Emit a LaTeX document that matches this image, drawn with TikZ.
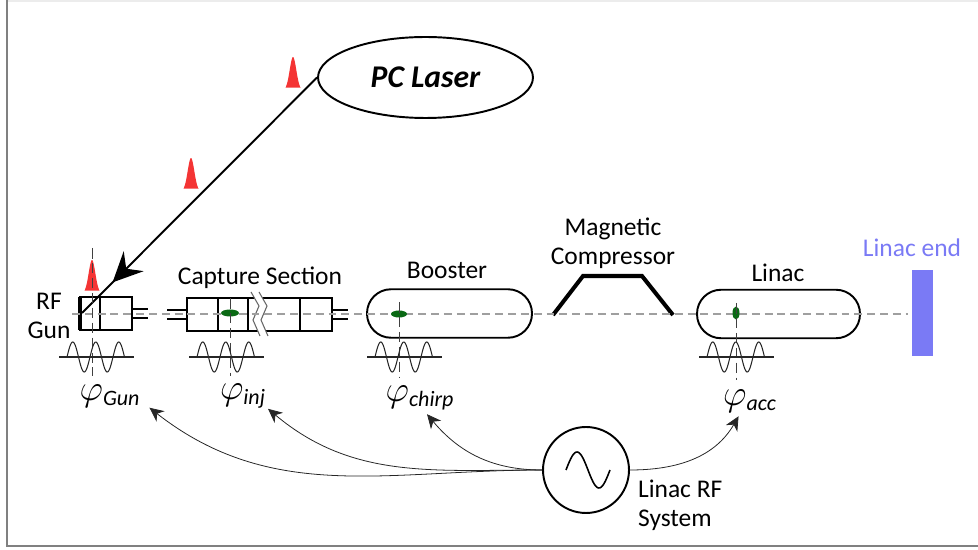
\documentclass[tikz,border=0pt]{standalone}
\usepackage{fontspec}
\usepackage{amsmath}
\setmainfont{Carlito}
\usetikzlibrary{shapes,arrows.meta,decorations.markings}
\definecolor{pulsered}{RGB}{244,52,52}
\definecolor{bunchgreen}{RGB}{10,105,20}
\definecolor{endblue}{RGB}{122,122,245}
\newcommand{\phasesub}[1]{_{\text{\fontsize{12.5}{13}\selectfont\itshape #1}}}
\tikzstyle{box} = [line width=1.1pt]
\tikzstyle{cavity} = [draw, line width=1.1pt, rounded corners=0.48cm, minimum height=0.97cm, inner sep=0pt]
\tikzstyle{axis} = [gray!75, line width=0.8pt, dash pattern=on 4.5pt off 2.8pt]
\tikzstyle{bunchline} = [black!75, line width=0.5pt, dash pattern=on 6pt off 2.5pt]
\tikzstyle{wave} = [black!85, line width=0.6pt]
\tikzstyle{txt} = [font=\fontsize{14.5}{16.4}\selectfont, align=center, inner sep=1pt]
\tikzstyle{phase} = [font=\fontsize{21}{22}\selectfont, inner sep=1pt]
\tikzstyle{rfarrow} = [-{Stealth[length=8pt,width=7.5pt,inset=2.5pt]}, line width=0.45pt, black!85]

\begin{document}
\begin{tikzpicture}[x=0.02cm, y=-0.02cm]
\useasboundingbox (0,0) rectangle (978,550);
\draw[gray!15, line width=0.6pt] (7,1) -- (978,1);
\draw[gray, line width=0.9pt] (7,0) -- (7,546) -- (978,546);

% laser pulses
\foreach \px/\py in {293/90, 191/191, 92/293}
  \fill[pulsered] plot[domain=-7.5:7.5, samples=30] ({\px+\x}, {\py-33*exp(-(\x/3.3)^2/2)}) -- cycle;

\node[draw, ellipse, line width=1.1pt, minimum width=4.3cm, minimum height=1.62cm, inner sep=0pt,
  font=\fontsize{18}{20}\selectfont\bfseries\itshape] (laser) at (425.5,77.5) {PC Laser};
\coordinate (cathode) at (82,313);
\draw[line width=1.1pt, postaction={decorate}, decoration={markings,
  mark=at position 0.87 with {\arrow{Stealth[length=17pt,width=16pt,inset=6pt]}}}] (laser.west) -- (cathode);

% rf gun
\draw[box] (80,297) rectangle (132,330) (100,297) -- (100,330)
  (132,309) -- (148,309) (132,318) -- (148,318);
\draw[line width=2.8pt] (80,297) -- (80,330);
\node[txt] (gunlabel) at (49,316) {RF\\Gun};

% capture section
\draw[box] (187,298) rectangle (332,331);
\foreach \cx in {218,248,300}
  \draw[box] (\cx,298) -- (\cx,331);
\draw[box] (167,310) -- (187,310) (167,319) -- (187,319) (332,310) -- (348,310) (332,319) -- (348,319);
\fill[white] (251,292) -- (259,306) -- (253,320) -- (260,336) -- (268,336) -- (261,320) -- (267,306) -- (259,292) -- cycle;
\draw[gray!80!black, line width=0.6pt] (251,292) -- (259,306) -- (253,320) -- (260,336)
  (259,292) -- (267,306) -- (261,320) -- (268,336);
\node[txt] (capturelabel) at (260,278) {Capture Section};

% booster, compressor, linac
\node[cavity, minimum width=3.3cm] (booster) at (449.5,313.5) {};
\node[txt] (boosterlabel) at (447,270) {Booster};
\draw[line width=2.3pt] (553,315) -- (583,276) -- (642,276) -- (673,315);
\node[txt] (complabel) at (613,243) {Magnetic\\Compressor};
\node[cavity, minimum width=3.26cm] (linac) at (778.5,314) {};
\node[txt] (linaclabel) at (778,273) {Linac};
\fill[endblue] (912,270) rectangle (933,356);
\node[txt, text=endblue] (endlabel) at (912,248) {Linac end};

\draw[axis] (72,314) -- (908,314);

% bunches and rf phases
\fill[bunchgreen] (230,313) ellipse [x radius=0.18cm, y radius=0.07cm];
\fill[bunchgreen] (399,314) ellipse [x radius=0.16cm, y radius=0.07cm];
\fill[bunchgreen] (736,313) ellipse [x radius=0.07cm, y radius=0.13cm];
\foreach \bx/\ytop/\ybot in {92/248/376, 230/298/376, 399/302/378, 736/303/380}
  \draw[bunchline] (\bx,\ytop) -- (\bx,\ybot);
\foreach \ws in {67, 197, 375, 707} {
  \draw[wave] (\ws-8,357) -- (\ws+67,357);
  \draw[wave] plot[domain=0:900, samples=80] ({\ws+\x/360*23}, {357-15*sin(\x)});
}
\node[phase] (phigun) at (110,396) {$\varphi\phasesub{Gun}$};
\node[phase] (phiinj) at (243,396) {$\varphi\phasesub{inj}$};
\node[phase] (phichirp) at (420,398) {$\varphi\phasesub{chirp}$};
\node[phase] (phiacc) at (750,401) {$\varphi\phasesub{acc}$};

% rf system
\node[draw, circle, line width=1.1pt, minimum size=1.72cm] (rf) at (586,470) {};
\draw[line width=0.9pt] plot[domain=0:360, samples=40] ({566+\x/360*44}, {470-18*sin(\x)});
\node[txt, align=left, anchor=west] (rflabel) at (636,505) {Linac RF\\System};
\draw[rfarrow] (rf.west) to[out=180, in=-38] ([xshift=4pt,yshift=1pt]phigun.south east);
\draw[rfarrow] (rf.west) to[out=180, in=-40] ([xshift=0pt,yshift=1pt]phiinj.south east);
\draw[rfarrow] (rf.west) to[out=180, in=-50] ([xshift=4pt,yshift=-1pt]phichirp.south);
\draw[rfarrow] (rf.east) to[out=0, in=-120] ([xshift=-6.5pt,yshift=-1pt]phiacc.south);
\end{tikzpicture}
\end{document}
